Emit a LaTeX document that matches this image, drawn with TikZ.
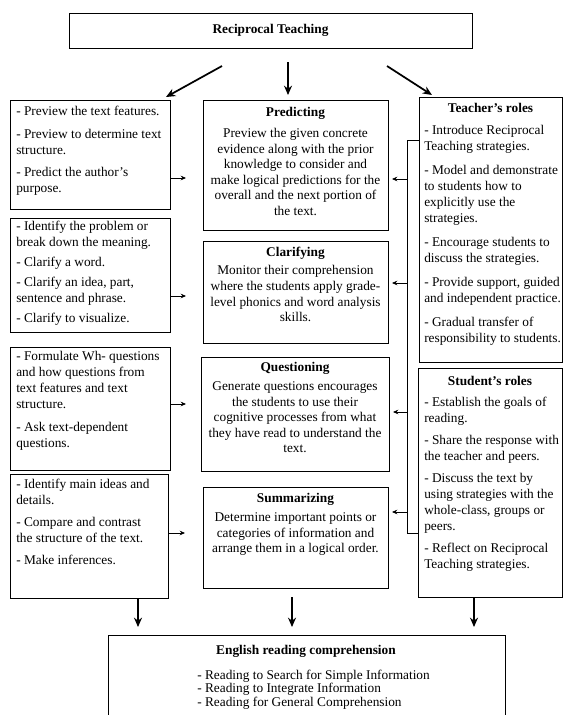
\documentclass[tikz,border=0pt]{standalone}
\usepackage{fontspec}
\setmainfont{Liberation Serif}
\usetikzlibrary{arrows.meta}
\begin{document}
\begin{tikzpicture}[x=0.75pt,y=-0.75pt,
  bx/.style={draw, line width=0.7pt, inner sep=0pt, anchor=north west},
  lt/.style={anchor=north west, inner sep=0pt, align=left, font=\fontsize{10}{12}\selectfont},
  ct/.style={anchor=north, inner sep=0pt, align=center, font=\fontsize{10}{11.7}\selectfont},
  ttl/.style={anchor=north, inner sep=0pt, font=\bfseries\fontsize{10}{12}\selectfont},
  bigarr/.style={-{Stealth[length=7pt,width=6pt]}, line width=1.3pt},
  smarr/.style={-{Stealth[length=4pt,width=3.5pt]}, line width=0.7pt},
  conn/.style={line width=0.7pt}]
\clip (0,0) rectangle (563,715);
\fill[white] (0,0) rectangle (563,715);

% top
\node[draw, line width=0.7pt, minimum width=403*0.75pt, minimum height=35*0.75pt,
      font=\bfseries\fontsize{10}{12}\selectfont] (T) at (270.5,30.5) {Reciprocal Teaching};
\coordinate (a1s) at (222,66); \coordinate (a1e) at (166,97);
\coordinate (a2s) at (288,62); \coordinate (a2e) at (288,95);
\coordinate (a3s) at (387,66); \coordinate (a3e) at (432,95);
\draw[bigarr] (a1s) -- (a1e);
\draw[bigarr] (a2s) -- (a2e);
\draw[bigarr] (a3s) -- (a3e);

% left column
\node[bx, minimum width=160*0.75pt, minimum height=109*0.75pt] (L1) at (10,100) {};
\node[lt] (L1t) at (16,106) {- Preview the text features.\\[5pt]
- Preview to determine text\\ structure.\\[5pt]
- Predict the author’s\\ purpose.};

\node[bx, minimum width=160*0.75pt, minimum height=114*0.75pt] (L2) at (10,218) {};
\node[lt] (L2t) at (16,221) {- Identify the problem or\\ break down the meaning.\\[3pt]
- Clarify a word.\\[3pt]
- Clarify an idea, part,\\ sentence and phrase.\\[3pt]
- Clarify to visualize.};

\node[bx, minimum width=160*0.75pt, minimum height=123*0.75pt] (L3) at (10,347) {};
\node[lt] (L3t) at (16,351) {- Formulate Wh- questions\\ and how questions from\\ text features and text\\ structure.\\[5pt]
- Ask text-dependent\\ questions.};

\node[bx, minimum width=158*0.75pt, minimum height=124*0.75pt] (L4) at (10,474) {};
\node[lt] (L4t) at (16,479) {- Identify main ideas and\\ details.\\[4.5pt]
- Compare and contrast\\ the structure of the text.\\[4.5pt]
- Make inferences.};

% middle column
\node[bx, minimum width=185*0.75pt, minimum height=130*0.75pt] (P) at (203,100) {};
\node[ct] (Pt) at (295.5,107) {\textbf{Predicting}\\[4pt]
Preview the given concrete\\ evidence along with the prior\\ knowledge to consider and\\
make logical predictions for the\\ overall and the next portion of\\ the text.};

\node[bx, minimum width=185*0.75pt, minimum height=102*0.75pt] (C) at (203,241) {};
\node[ct] (Ct) at (295.5,247) {\textbf{Clarifying}\\[2pt]
Monitor their comprehension\\ where the students apply grade-\\ level phonics and word analysis\\ skills.};

\node[bx, minimum width=188*0.75pt, minimum height=114*0.75pt] (Q) at (201,357) {};
\node[ct] (Qt) at (295,362) {\textbf{Questioning}\\[2.5pt]
Generate questions encourages\\ the students to use their\\ cognitive processes from what\\
they have read to understand the\\ text.};

\node[bx, minimum width=185*0.75pt, minimum height=101*0.75pt] (S) at (203,487) {};
\node[ct] (St) at (295.5,493) {\textbf{Summarizing}\\[2.5pt]
Determine important points or\\ categories of information and\\ arrange them in a logical order.};

% right column
\node[bx, minimum width=143*0.75pt, minimum height=265*0.75pt] (TR) at (419,97) {};
\node[ttl] (TRh) at (490.5,103) {Teacher’s roles};
\node[lt] (TRt) at (424,125) {- Introduce Reciprocal\\ Teaching strategies.\\[6pt]
- Model and demonstrate\\ to students how to\\ explicitly use the\\ strategies.\\[6pt]
- Encourage students to\\ discuss the strategies.\\[6pt]
- Provide support, guided\\ and independent practice.\\[6pt]
- Gradual transfer of\\ responsibility to students.};

\node[bx, minimum width=144*0.75pt, minimum height=229*0.75pt] (SR) at (418,368) {};
\node[ttl] (SRh) at (490,376) {Student’s roles};
\node[lt] (SRt) at (424,397) {- Establish the goals of\\ reading.\\[4.5pt]
- Share the response with\\ the teacher and peers.\\[4.5pt]
- Discuss the text by\\ using strategies with the\\ whole-class, groups or\\ peers.\\[4.5pt]
- Reflect on Reciprocal\\ Teaching strategies.};

% left -> middle arrows
\coordinate (l1) at (186,178); \draw[smarr] (L1.east |- l1) -- (l1);
\coordinate (l2) at (186,296); \draw[smarr] (L2.east |- l2) -- (l2);
\coordinate (l3) at (186,404); \draw[smarr] (L3.east |- l3) -- (l3);
\coordinate (l4) at (185,533); \draw[smarr] (L4.east |- l4) -- (l4);

% bracket from roles
\coordinate (bt) at (407,140); \coordinate (bb) at (407,533);
\draw[conn] (TR.west |- bt) -- (bt) -- (bb) -- (SR.west |- bb);
\coordinate (r1) at (392,179); \draw[smarr] (bt |- r1) -- (r1);
\coordinate (r2) at (392,283); \draw[smarr] (bt |- r2) -- (r2);
\coordinate (r3) at (393,412); \draw[smarr] (bt |- r3) -- (r3);
\coordinate (r4) at (392,512); \draw[smarr] (bt |- r4) -- (r4);

% bottom
\node[bx, minimum width=397*0.75pt, minimum height=100*0.75pt] (E) at (108,635) {};
\node[ttl] (Eh) at (306,645) {English reading comprehension};
\node[anchor=north west, inner sep=0pt, align=left, font=\fontsize{10}{10}\selectfont] (Et) at (197,670)
 {- Reading to Search for Simple Information\\ - Reading to Integrate Information\\ - Reading for General Comprehension};

\coordinate (d1) at (138,627); \draw[bigarr] (L4.south -| d1) -- (d1);
\coordinate (d2s) at (292,597); \coordinate (d2) at (292,627); \draw[bigarr] (d2s) -- (d2);
\coordinate (d3) at (474,627); \draw[bigarr] (SR.south -| d3) -- (d3);
\end{tikzpicture}
\end{document}
